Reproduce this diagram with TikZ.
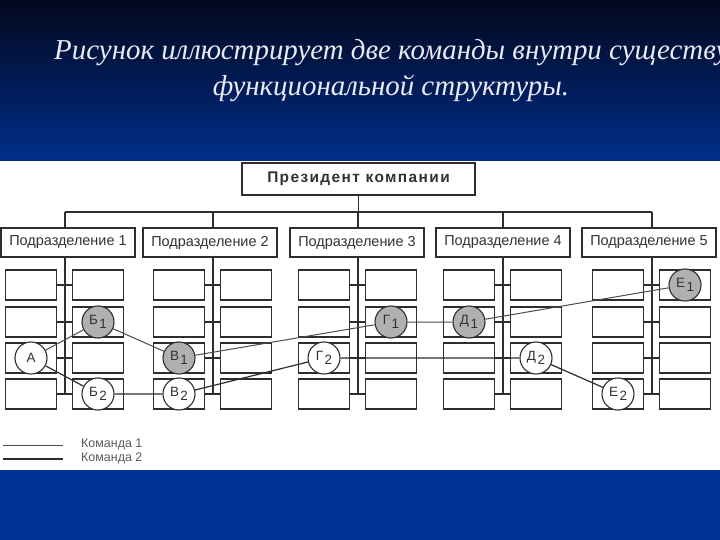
\documentclass[tikz,border=0pt]{standalone}
\usepackage{fontspec}
\setmainfont{Liberation Serif}
\setsansfont{Liberation Sans}
\newfontfamily\presfont[LetterSpace=9]{Liberation Sans}
\definecolor{topdark}{RGB}{3,8,30}
\definecolor{topblue}{RGB}{0,46,138}
\definecolor{botblue}{RGB}{0,50,150}
\definecolor{titlec}{RGB}{232,234,244}
\definecolor{linec}{RGB}{45,45,45}
\definecolor{textc}{RGB}{50,50,50}
\definecolor{fillone}{RGB}{176,176,176}
\newcommand{\mlab}[2]{#1\kern1.5bp\raisebox{-4.5bp}{#2}}
\begin{document}
\begin{tikzpicture}[x=1bp,y=-1bp,
 box/.style={draw=linec,line width=1.3bp,fill=white,minimum width=51bp,minimum height=30bp,inner sep=0pt},
 divbox/.style={draw=linec,line width=1.3bp,fill=white,minimum width=134bp,minimum height=29bp,inner sep=0pt,text=textc,font=\sffamily\fontsize{14.5}{15}\selectfont},
 presbox/.style={draw=linec,line width=1.3bp,fill=white,minimum width=233bp,minimum height=32bp,inner sep=0pt,text=textc,font=\presfont\bfseries\fontsize{15.5}{16}\selectfont},
 treeline/.style={draw=linec,line width=1.1bp},
 memberone/.style={circle,draw=linec,line width=1.1bp,fill=fillone,minimum size=32bp,inner sep=0pt,text=textc,font=\sffamily\fontsize{13.5}{14}\selectfont},
 membertwo/.style={memberone,fill=white},
 teamone/.style={draw=linec!85,line width=1bp},
 teamtwo/.style={draw=linec,line width=1.2bp},
 legendtext/.style={anchor=west,text=textc!80,font=\sffamily\fontsize{12.5}{13}\selectfont,inner sep=0pt},
 titletext/.style={text=titlec,inner sep=0pt,font=\itshape\fontsize{29}{30}\selectfont}
]
\useasboundingbox (0,0) rectangle (720,540);
\clip (0,0) rectangle (720,540);
\shade[top color=topdark,bottom color=topblue] (0,0) rectangle (720,161);
\fill[white] (0,161) rectangle (720,470);
\fill[botblue] (0,470) rectangle (720,540);

\node[titletext,anchor=base west] (t1) at (54,60) {Рисунок иллюстрирует две команды внутри существу};
\node[titletext,anchor=base] (t2) at (391,96) {функциональной структуры.};

\node[presbox] (pres) at (358.5,179) {Президент компании};

\foreach \d/\cx/\s in {1/68/65,2/210/213,3/357/358,4/503/503,5/649/652}{
  \node[divbox] (d\d) at (\cx,242.5) {Подразделение \d};
  \coordinate (s\d) at (\s,212);
}
\draw[treeline] (s1) -- (s5);
\draw[treeline] (pres.south) -- (pres.south |- s1);
\foreach \d in {1,...,5}{
  \draw[treeline] (s\d) -- (s\d |- d\d.north);
}
\foreach \d/\s in {1/65,2/213,3/358,4/503,5/652}{
  \foreach \r/\ry in {1/285,2/322,3/358,4/394}{
    \node[box] (b-\d-\r-L) at (\s-34,\ry) {};
    \node[box] (b-\d-\r-R) at (\s+33,\ry) {};
    \draw[treeline] (b-\d-\r-L.east) -- (b-\d-\r-R.west);
  }
  \draw[treeline] (s\d |- d\d.south) -- (s\d |- b-\d-4-L.east);
}

\node[membertwo] (A) at (b-1-3-L) {А};
\node[memberone] (B1) at (b-1-2-R) {\mlab{Б}{1}};
\node[membertwo] (B2) at (b-1-4-R) {\mlab{Б}{2}};
\node[memberone] (V1) at (b-2-3-L) {\mlab{В}{1}};
\node[membertwo] (V2) at (b-2-4-L) {\mlab{В}{2}};
\node[memberone] (G1) at (b-3-2-R) {\mlab{Г}{1}};
\node[membertwo] (G2) at (b-3-3-L) {\mlab{Г}{2}};
\node[memberone] (D1) at (b-4-2-L) {\mlab{Д}{1}};
\node[membertwo] (D2) at (b-4-3-R) {\mlab{Д}{2}};
\node[memberone] (E1) at (b-5-1-R) {\mlab{Е}{1}};
\node[membertwo] (E2) at (b-5-4-L) {\mlab{Е}{2}};

\draw[teamone] (A) -- (B1) -- (V1) -- (G1) -- (D1) -- (E1);
\draw[teamtwo] (A) -- (B2) -- (V2) -- (G2) -- (D2) -- (E2);

\coordinate (k1a) at (3,445); \coordinate (k1b) at (63,445);
\coordinate (k2a) at (3,459); \coordinate (k2b) at (63,459);
\draw[teamone] (k1a) -- (k1b);
\draw[teamtwo] (k2a) -- (k2b);
\node[legendtext] (k1) at (81,444) {Команда 1};
\node[legendtext] (k2) at (81,458) {Команда 2};
\end{tikzpicture}
\end{document}
